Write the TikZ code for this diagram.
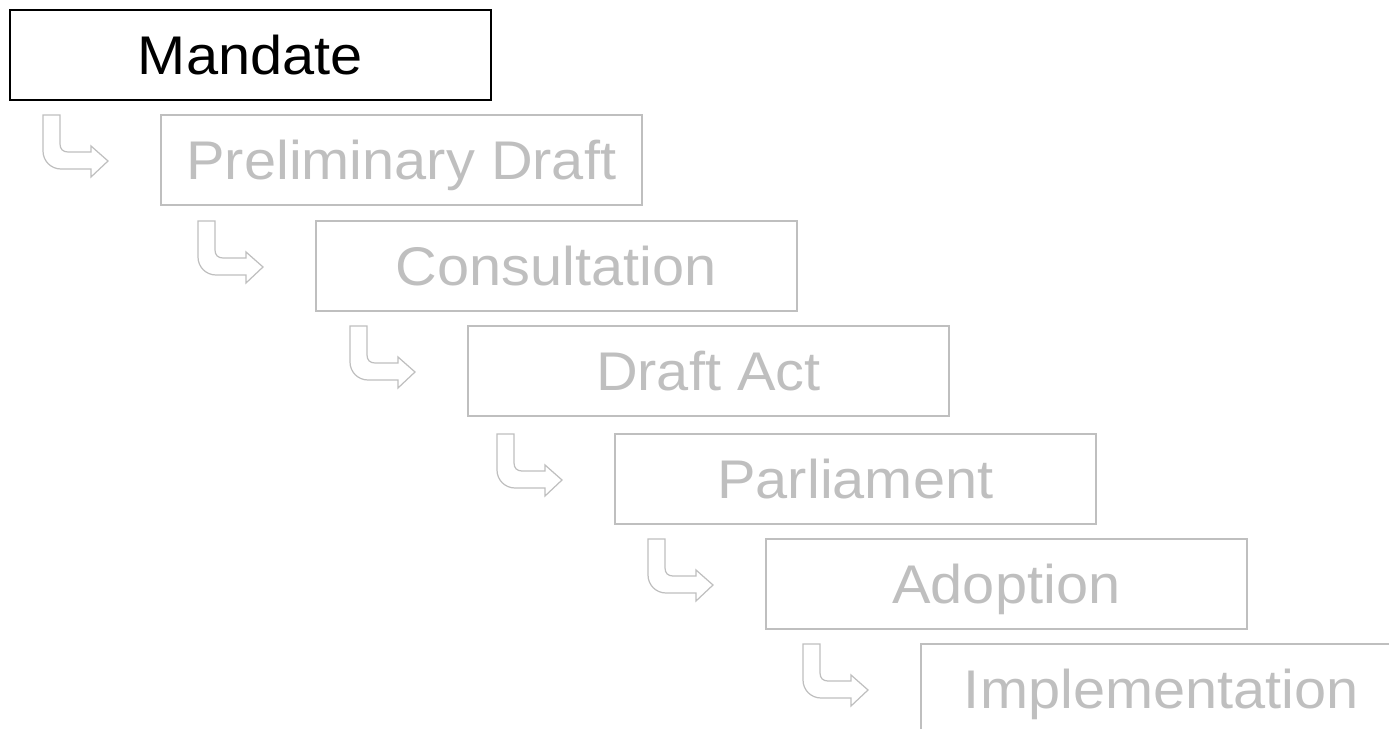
\documentclass[tikz,border=0pt]{standalone}
\usepackage{fontspec}
\setmainfont[FakeStretch=1.06]{Liberation Sans}
\definecolor{lightgrey}{RGB}{191,191,191}

\begin{document}
\begin{tikzpicture}
        [x=0.02cm, y=-0.02cm,
        stage/.style={rectangle, draw=lightgrey, text=lightgrey, line width=1pt, anchor=north west,
            minimum width=9.62cm, minimum height=1.8cm, text height=22.2pt, text depth=0pt,
            inner sep=0pt, font=\fontsize{31}{36}\selectfont},
        current/.style={stage, draw=black, text=black},
        arrowline/.style={lightgrey, line width=0.7pt, line join=miter},
        bentarrow/.pic={\draw[arrowline] (0,0) -- (17,0) -- (17,29)
            .. controls (17,34) and (20,37) .. (25,37) -- (48,37) -- (48,31) -- (65,46)
            -- (48,62) -- (48,54) -- (18,54) .. controls (8,54) and (0,46) .. (0,36) -- cycle;}]

        \clip (0,0) rectangle (1389,729);

        \node[current] (mandate) at (9,9) {Mandate};
        \node[stage] (prelim) at (160,114) {Preliminary Draft};
        \node[stage] (consult) at (315,220) {Consultation};
        \node[stage] (draft) at (467,325) {Draft Act};
        \node[stage] (parl) at (614,433) {Parliament};
        \node[stage] (adopt) at (765,538) {Adoption};
        \node[stage] (impl) at (920,643) {Implementation};

        % bent arrows in front of each following stage
        \pic at ([shift={(-117,1)}]prelim.north west) {bentarrow};
        \pic at ([shift={(-117,1)}]consult.north west) {bentarrow};
        \pic at ([shift={(-117,1)}]draft.north west) {bentarrow};
        \pic at ([shift={(-117,1)}]parl.north west) {bentarrow};
        \pic at ([shift={(-117,1)}]adopt.north west) {bentarrow};
        \pic at ([shift={(-117,1)}]impl.north west) {bentarrow};

    \end{tikzpicture}
\end{document}
